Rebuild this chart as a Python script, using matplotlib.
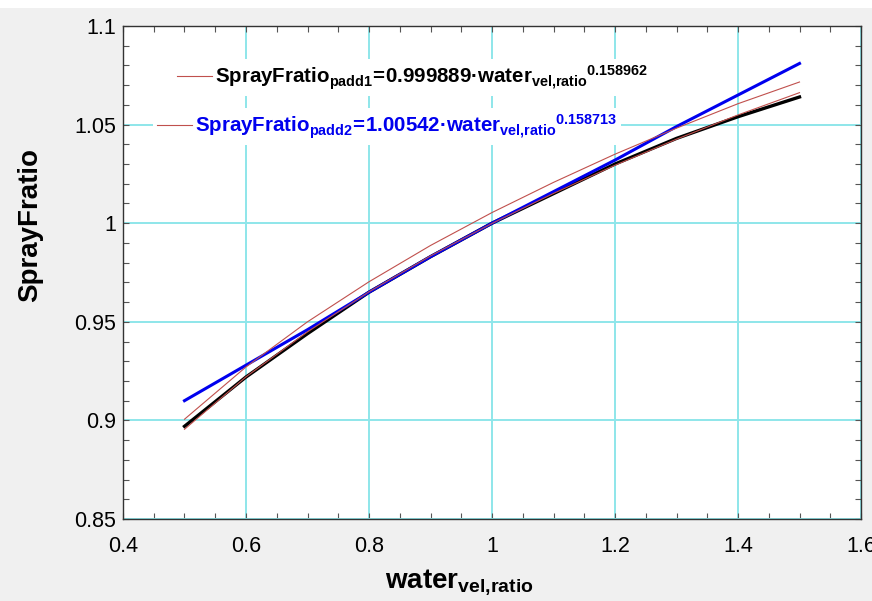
import matplotlib.pyplot as plt
from matplotlib.patches import Rectangle
from matplotlib.ticker import MultipleLocator

plt.rcParams['font.family'] = ['Liberation Sans', 'DejaVu Sans']
plt.rcParams['mathtext.fontset'] = 'custom'
plt.rcParams['mathtext.rm'] = 'Liberation Sans:bold'
plt.rcParams['mathtext.it'] = 'Liberation Sans:bold'
plt.rcParams['mathtext.bf'] = 'Liberation Sans:bold'

# water velocity ratio
x = [0.5, 0.6, 0.7, 0.8, 0.9, 1.0, 1.1, 1.2, 1.3, 1.4, 1.5]

# measured spray ratio (black)
spray_data = [0.897, 0.922, 0.944, 0.965, 0.983, 1.0, 1.015, 1.030, 1.043, 1.054, 1.064]
# second data set (blue)
spray_blue = [0.910, 0.928, 0.946, 0.965, 0.983, 1.0, 1.016, 1.032, 1.049, 1.065, 1.081]
# fitted curves (thin red)
fit_padd1 = [0.8955, 0.9221, 0.9449, 0.9652, 0.9834, 0.9999, 1.0151, 1.0294, 1.0426, 1.0549, 1.0662]
fit_padd2 = [0.9006, 0.9271, 0.9500, 0.9703, 0.9887, 1.0054, 1.0207, 1.0350, 1.0482, 1.0606, 1.0716]

dot = '\u00b7'
label1 = (r'$\mathrm{SprayFratio}_{\mathrm{padd1}}\!=\!\mathrm{0.999889' + dot +
          r'water}_{\mathrm{vel{,}ratio}}{}^{\mathrm{0.158962}}$')
label2 = (r'$\mathrm{SprayFratio}_{\mathrm{padd2}}\!=\!\mathrm{1.00542' + dot +
          r'water}_{\mathrm{vel{,}ratio}}{}^{\mathrm{0.158713}}$')

fig = plt.figure(figsize=(8.72, 6.01), dpi=100, facecolor='#f0f0f0')
fig.patches.append(Rectangle((0, 0.986), 1, 0.014, transform=fig.transFigure,
                             facecolor='white', edgecolor='none', zorder=0))
ax = fig.add_axes([123/872, 1 - 519/601, 738/872, 493/601])

ax.plot(x, spray_data, color='black', lw=2.4, zorder=3)
ax.plot(x, spray_blue, color='#0000ee', lw=2.2, zorder=3)
l1, = ax.plot(x, fit_padd1, color='#c0504d', lw=0.8, zorder=4)
l2, = ax.plot(x, fit_padd2, color='#c0504d', lw=0.8, zorder=4)

ax.set_xlim(0.4, 1.6)
ax.set_ylim(0.85, 1.1)
ax.xaxis.set_minor_locator(MultipleLocator(0.05))
ax.yaxis.set_minor_locator(MultipleLocator(0.01))
ax.set_xticks([0.4, 0.6, 0.8, 1.0, 1.2, 1.4, 1.6])
ax.set_xticklabels(['0.4', '0.6', '0.8', '1', '1.2', '1.4', '1.6'])
ax.set_yticks([0.85, 0.9, 0.95, 1.0, 1.05, 1.1])
ax.set_yticklabels(['0.85', '0.9', '0.95', '1', '1.05', '1.1'])
ax.tick_params(which='both', direction='in', top=True, right=True,
               length=4, width=0.8, color='#555555', labelsize=15.5)
ax.tick_params(axis='x', pad=12)
ax.tick_params(axis='y', pad=5)
ax.grid(True, which='major', color='#8ee6ea', lw=1.4)
ax.set_axisbelow(True)
for s in ax.spines.values():
    s.set_color('#333333')
    s.set_linewidth(1.0)

leg_kw = dict(loc='center left', fontsize=14.8, frameon=True, fancybox=False,
              framealpha=1, facecolor='white', edgecolor='none', borderpad=0.2,
              borderaxespad=0, handlelength=1.7, handletextpad=0.12)
leg1 = ax.legend([l1], [label1], bbox_to_anchor=(0.068, 0.895), **leg_kw)
ax.add_artist(leg1)
leg2 = ax.legend([l2], [label2], bbox_to_anchor=(0.041, 0.796), **leg_kw)
for t in leg2.get_texts():
    t.set_color('#0000ee')

fig.text(30/872, 1 - 225/601, 'SprayFratio', rotation=90, fontsize=20,
         fontweight='bold', ha='center', va='center')
fig.text(459/872, 1 - 582/601, r'$\mathrm{water}_{\mathrm{vel{,}ratio}}$',
         fontsize=20, ha='center', va='center')

fig.savefig('out.png', dpi=100, facecolor=fig.get_facecolor())
